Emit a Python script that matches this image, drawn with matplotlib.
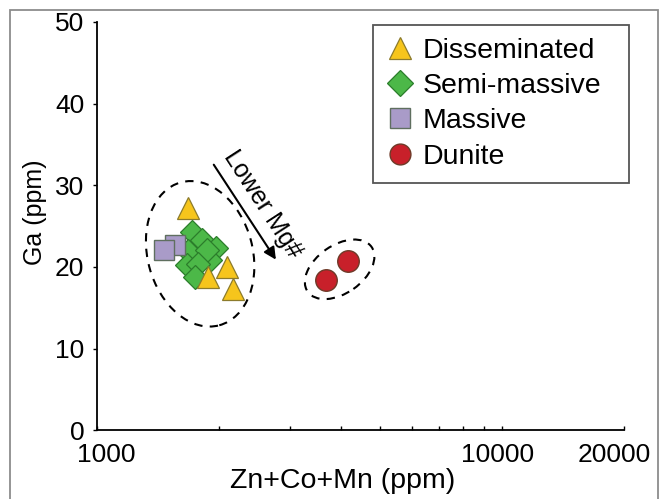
import numpy as np
import matplotlib
matplotlib.use('Agg')
import matplotlib.pyplot as plt
from matplotlib.patches import Ellipse, Rectangle
from matplotlib.lines import Line2D
from matplotlib.transforms import ScaledTranslation
from matplotlib.ticker import FixedLocator, NullFormatter

plt.rcParams['font.family'] = ['Liberation Sans', 'DejaVu Sans']

# --- data ---
diss_x = [1680, 2098, 1883, 2172]
diss_y = [27.2, 20.0, 18.8, 17.3]

semi_x = [1716, 1815, 1971, 1683, 1667, 1903, 1870, 1781, 1748]
semi_y = [24.3, 23.3, 22.3, 21.9, 20.2, 20.8, 22.1, 20.4, 18.8]

mass_x = [1560, 1465]
mass_y = [22.7, 22.1]

dun_x = [4155, 3667]
dun_y = [20.7, 18.4]

xticks = [1000, 10000, 20000]
xticklabels = ['1000', '10000', '20000']
yticks = [0, 10, 20, 30, 40, 50]

fig = plt.figure(figsize=(6.67, 4.99), dpi=100)
ax = fig.add_axes([0.145, 0.138, 0.791, 0.818])

# outer grey frame of the figure
fig.patches.append(Rectangle((10/667, -0.05), 648/667, 1.05 - 10/499, transform=fig.transFigure,
                             fill=False, edgecolor='#8c8c8c', linewidth=1.3, zorder=0))

ax.set_xscale('log')
ax.set_xlim(1000, 20000)
ax.set_ylim(0, 50)

# dashed envelopes, drawn in inches around a data point
def envelope(x, y, w, h, ang):
	tr = fig.dpi_scale_trans + ScaledTranslation(x, y, ax.transData)
	e = Ellipse((0, 0), w, h, angle=ang, transform=tr, fill=False,
				edgecolor='k', linestyle=(0, (4, 3.5)), linewidth=1.5, zorder=1)
	ax.add_patch(e)

envelope(1799, 21.6, 1.05, 1.48, 15)
envelope(3972, 19.7, 0.78, 0.48, 35)

tri = dict(marker='^', mfc='#f6c51c', mec='#8c7b2c', mew=0.9, ls='none')
dia = dict(marker='D', mfc='#4cb848', mec='#2b7d2b', mew=0.9, ls='none')
sqr = dict(marker='s', mfc='#a99bc8', mec='#5f6f5f', mew=1.0, ls='none')
cir = dict(marker='o', mfc='#c8202a', mec='#6e3a28', mew=1.0, ls='none')

ax.plot(semi_x, semi_y, ms=12.5, zorder=3, **dia)
ax.plot(mass_x, mass_y, ms=15, zorder=4, **sqr)
ax.plot(diss_x, diss_y, ms=16, zorder=5, **tri)
ax.plot(dun_x, dun_y, ms=15.5, zorder=5, **cir)

# arrow + label
ax.annotate('', xy=(2790, 20.6), xytext=(1927, 32.8),
			arrowprops=dict(arrowstyle='-|>', color='k', lw=1.5, mutation_scale=18))
ax.text(2560, 27.7, 'Lower Mg#', rotation=-57, fontsize=18, ha='center', va='center',
		rotation_mode='anchor')

handles = [Line2D([], [], ms=16, **tri), Line2D([], [], ms=13, **dia),
		   Line2D([], [], ms=14.5, **sqr), Line2D([], [], ms=15, **cir)]
labels = ['Disseminated', 'Semi-massive', 'Massive', 'Dunite']
leg = ax.legend(handles, labels, loc='upper left', mode='expand',
				bbox_to_anchor=(0.524, 0.0, 0.484, 0.993), borderaxespad=0, fontsize=20.5,
				fancybox=False, edgecolor='#555555', framealpha=1, handletextpad=0.3,
				labelspacing=0.33, borderpad=0.45, handlelength=1.0)
leg.get_frame().set_linewidth(1.3)

for s in ['top', 'right']:
	ax.spines[s].set_visible(False)
for s in ['left', 'bottom']:
	ax.spines[s].set_linewidth(1.3)

ax.xaxis.set_major_locator(FixedLocator(xticks))
ax.set_xticklabels(xticklabels)
ax.xaxis.set_minor_locator(FixedLocator([2000, 3000, 4000, 5000, 6000, 7000, 8000, 9000]))
ax.xaxis.set_minor_formatter(NullFormatter())
ax.tick_params(axis='x', which='both', direction='in', length=3, width=1, labelsize=19, pad=9)
ax.set_yticks(yticks)
ax.tick_params(axis='y', direction='out', length=3, width=1, labelsize=19, pad=6)

# nudge the end labels like in the original
shifts = [0.10, -0.05, -0.10]
for lab, dx in zip(ax.get_xticklabels(), shifts):
	lab.set_transform(lab.get_transform() + ScaledTranslation(dx, 0, fig.dpi_scale_trans))

ax.set_xlabel('Zn+Co+Mn (ppm)', fontsize=20.5, labelpad=1)
ax.xaxis.label.set_x(0.467)
ax.set_ylabel('Ga (ppm)', fontsize=18, labelpad=6)
ax.yaxis.label.set_y(0.534)

fig.savefig('out.png', dpi=100)
